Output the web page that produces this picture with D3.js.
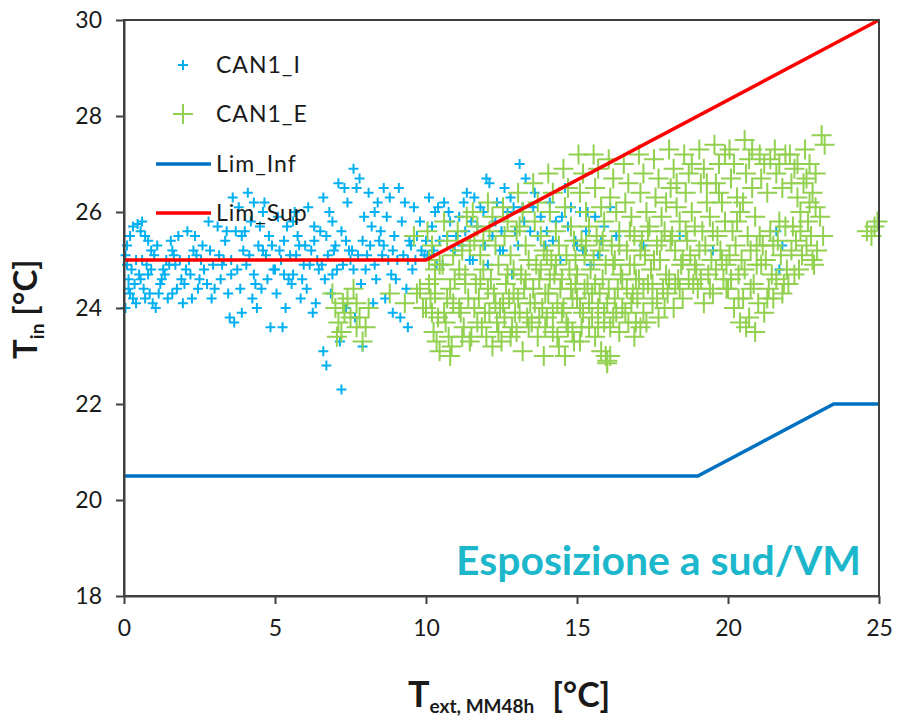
<!DOCTYPE html>
<meta charset="utf-8">
<style type="text/css">
  body { margin: 0; background: #fff; }
  text { font-family: Lato, "Open Sans", sans-serif; fill: #1a1a1a; }
  .axis path, .axis line { stroke: #404040; stroke-width: 2; }
  .axis text { font-size: 23px; fill: #1a1a1a; }
  .frame { fill: none; stroke: #404040; stroke-width: 2; }
  .limline { fill: none; stroke-width: 3.5; }
</style>
<body>
</body>
<script src="https://d3js.org/d3.v7.min.js"></script>
<script>
  // T_in vs T_ext (moving mean 48h), south exposure

  var seriesNames = ["CAN1_I", "CAN1_E", "Lim_Inf", "Lim_Sup"];
  var xTicks = [0, 5, 10, 15, 20, 25];
  var yTicks = [18, 20, 22, 24, 26, 28, 30];

  // Lim_Inf / Lim_Sup corner points
  var limInfX = [0, 19, 23.5, 25];
  var limInfY = [20.5, 20.5, 22, 22];
  var limSupX = [0, 10, 25];
  var limSupY = [25, 25, 30];

  // CAN1_I measurements [T_ext, T_in]
  var canI = [
    [0.05,25.1],[0.1,24.9],[0.15,24.6],[0.2,24.3],[0.05,24.0],[0.3,25.7],[0.45,25.75],[0.35,24.5],[0.25,24.8],[0.4,25.0],[0.3,24.2],
    [0.55,25.6],[0.7,25.5],[0.6,25.8],[0.8,24.7],[0.65,24.4],[0.9,25.2],[0.75,24.9],[0.95,24.1],[0.55,24.6],[0.85,24.3],
    [1.05,24.0],[1.2,24.5],[1.3,24.8],[1.1,25.3],[1.4,25.0],[1.25,24.6],[1.45,24.2],
    [1.55,25.4],[1.8,25.5],[1.6,24.3],[1.7,24.9],[1.9,24.6],[1.65,25.1],[1.95,24.1],
    [2.1,25.6],[2.3,25.2],[2.2,24.7],[2.45,24.4],[2.35,25.5],[2.05,24.8],
    [2.6,25.3],[2.75,24.5],[2.9,24.2],[2.8,25.8],[2.55,25.0],[2.95,24.9],
    [3.1,25.7],[3.3,25.0],[3.2,24.6],[3.45,24.3],[3.5,23.8],[3.35,25.4],
    [3.6,26.3],[3.8,26.1],[3.7,25.6],[3.95,25.2],[3.55,24.7],[3.85,24.4],[3.65,23.7],[3.9,23.9],
    [4.1,26.4],[4.3,26.2],[4.2,25.8],[4.45,25.3],[4.05,24.9],[4.35,24.5],[4.25,24.2],[4.4,24.0],
    [4.6,26.0],[4.8,25.5],[4.7,25.1],[4.95,24.8],[4.55,24.4],[4.85,23.6],[4.65,26.2],
    [5.1,25.9],[5.3,25.4],[5.2,25.0],[5.45,24.6],[5.05,24.3],[5.35,24.0],[5.25,23.6],[5.4,25.7],
    [5.6,25.8],[5.8,25.3],[5.7,25.1],[5.95,24.9],[5.55,24.5],[5.85,24.2],[5.65,26.0],
    [6.1,26.1],[6.3,25.7],[6.2,25.2],[6.45,24.8],[6.05,24.4],[6.35,24.1],[6.25,23.9],
    [6.6,26.3],[6.8,26.0],[6.7,25.5],[6.95,25.2],[6.55,24.9],[6.85,24.3],[6.6,23.1],[6.7,22.8],[6.9,25.8],
    [7.1,26.6],[7.3,26.5],[7.2,25.6],[7.45,25.2],[7.05,24.8],[7.35,24.0],[7.15,23.3],[7.2,22.3],[7.4,26.2],
    [7.6,26.9],[7.8,26.7],[7.7,26.5],[7.95,25.9],[7.55,25.2],[7.85,24.5],[7.65,23.8],[7.9,23.2],
    [8.1,26.4],[8.3,26.0],[8.2,25.7],[8.45,25.4],[8.05,25.1],[8.35,24.6],[8.25,24.1],[8.4,26.2],
    [8.6,26.5],[8.8,26.3],[8.7,25.9],[8.95,25.5],[8.55,25.1],[8.85,24.7],[8.65,24.2],[8.9,23.9],
    [9.1,26.5],[9.3,26.2],[9.2,25.8],[9.45,25.4],[9.05,25.0],[9.35,24.4],[9.15,23.8],[9.4,23.6],
    [9.6,26.1],[9.8,25.8],[9.7,25.5],[9.95,25.1],[9.55,24.8],
    [10.1,26.3],[10.3,26.0],[10.2,25.7],[10.45,25.4],[10.05,25.1],[10.35,24.9],
    [10.6,26.2],[10.8,25.8],[10.7,25.5],[10.95,25.2],[10.55,24.9],
    [11.1,25.9],[11.3,25.6],[11.2,25.3],[11.45,25.0],[11.35,26.4],
    [11.6,26.3],[11.8,26.1],[11.7,25.7],[11.95,25.3],[11.55,25.0],
    [12.1,26.6],[12.0,26.7],[12.3,25.8],[12.2,25.5],[12.45,25.2],[12.05,24.9],
    [12.6,26.5],[12.8,26.3],[12.7,26.0],[12.95,25.6],[12.55,25.2],[12.85,24.7],
    [13.1,27.0],[13.3,26.7],[13.2,26.1],[13.45,25.6],[13.05,25.3],
    [13.6,26.4],[13.8,25.9],[13.7,25.5],[13.95,25.3],
    [14.1,26.2],[14.3,25.8],[14.2,25.4],[14.45,25.0],
    [14.6,26.5],[14.8,26.1],[14.7,25.7],[14.95,25.4],
    [15.1,26.0],[15.3,25.6],[15.2,25.2],[15.45,24.9],
    [15.6,25.9],[15.8,25.4],[15.7,25.1],
    [16.1,26.1],[16.3,25.5],
    [17.2,25.3],[18.4,25.5],[19.5,25.2],
    [21.6,25.6],[21.8,25.3],[21.7,24.8],
    [0.1,25.3],[0.2,25.5],[0.15,24.4],[0.4,24.1],[0.5,24.7],[0.6,25.0],[0.7,24.2],[0.8,25.4],[0.9,24.8],[1.0,25.1],
    [1.15,24.3],[1.35,24.7],[1.5,24.9],[1.6,25.2],[1.75,24.4],[1.85,25.0],[2.0,24.5],[2.15,25.0],[2.25,24.2],[2.4,25.1],
    [2.5,24.6],[2.65,24.8],[2.85,25.2],[3.0,24.4],[3.15,25.1],[3.25,24.9],[3.4,25.6],[3.55,25.0],[3.75,24.8],[3.9,25.5],
    [4.0,25.6],[4.15,25.1],[4.3,24.7],[4.5,25.7],[4.6,25.2],[4.75,24.6],[4.9,25.3],[5.0,24.8],[5.15,25.2],[5.3,24.7],
    [5.5,25.1],[5.6,24.7],[5.75,25.5],[5.9,24.6],[6.0,25.3],[6.15,24.9],[6.3,25.4],[6.4,25.0],[6.5,25.6],[6.65,24.6],
    [6.75,25.1],[6.9,24.7],[7.0,25.3],[7.25,24.9],[7.35,25.4],[7.5,25.0],[7.6,24.8],[7.75,25.1],[7.9,25.4],[8.0,24.8],
    [8.15,25.3],[8.3,24.9],[8.5,25.6],[8.6,25.3],[8.75,25.0],[8.9,25.2],[9.0,24.6],[9.25,25.1],[9.4,25.0],[9.5,25.3],
    [9.65,25.0],[9.85,25.2],[10.0,25.4],[10.25,25.2],[10.4,26.1],[10.75,26.0],[11.0,25.5],[11.25,26.2],[11.5,25.8],[11.9,26.0],
    [12.35,26.2],[12.5,25.6],[12.9,26.1],[13.25,25.8],[13.55,26.1],[14.0,25.6],[14.5,25.9],[15.0,25.3],[15.35,26.0],[15.9,25.7]
  ];

  // CAN1_E measurements [T_ext, T_in]
  var canE = [
    [6.9,24.3],[7.0,24.0],[7.1,23.7],[7.2,23.5],[7.3,23.9],[7.4,24.2],
    [7.6,24.4],[7.7,24.1],[7.8,23.8],[7.9,23.3],[8.0,23.6],[8.1,24.0],
    [7.05,23.4],[7.25,24.1],[7.5,23.8],[7.7,23.6],
    [8.8,24.3],[9.3,24.1],
    [9.6,25.5],[9.8,24.4],[9.7,24.3],[9.9,24.0],
    [10.05,25.6],[10.2,25.3],[10.1,25.0],[10.3,24.6],[10.15,24.2],[10.4,23.8],[10.25,23.5],[10.35,23.3],[10.45,23.1],[10.0,24.0],[10.3,24.8],
    [10.6,25.8],[10.7,25.4],[10.55,24.9],[10.8,24.4],[10.9,24.1],[10.65,23.7],[10.75,23.4],[10.85,23.2],[10.95,24.6],
    [10.1,24.5],[10.2,23.9],[10.3,24.3],[10.45,24.9],[10.6,23.9],[10.7,24.2],[10.8,23.0],[10.9,25.1],
    [11.05,25.6],[11.2,25.2],[11.1,24.8],[11.3,24.5],[11.4,24.2],[11.15,23.9],[11.25,23.6],[11.45,23.3],[11.35,25.9],
    [11.1,24.0],[11.2,23.4],[11.3,24.7],[11.45,25.3],[11.6,24.0],[11.7,23.7],[11.8,24.6],[11.9,25.4],
    [11.55,26.0],[11.7,25.7],[11.6,25.4],[11.8,25.1],[11.9,24.8],[11.65,24.5],[11.75,24.2],[11.95,23.9],[11.85,23.6],[11.5,23.4],
    [12.05,26.2],[12.2,25.9],[12.1,25.6],[12.3,25.3],[12.4,24.9],[12.15,24.6],[12.25,24.3],[12.45,24.0],[12.35,23.7],[12.0,23.4],[12.2,23.2],
    [12.05,24.4],[12.1,23.9],[12.3,24.1],[12.4,23.5],[12.55,24.1],[12.6,23.8],[12.7,24.7],[12.8,23.4],[12.9,24.3],[13.0,25.6],
    [12.55,26.1],[12.7,25.8],[12.6,25.5],[12.8,25.1],[12.9,24.8],[12.65,24.5],[12.75,24.2],[12.95,23.9],[12.85,23.6],[12.5,23.3],
    [13.05,26.4],[13.2,26.0],[13.1,25.7],[13.3,25.3],[13.4,25.0],[13.15,24.7],[13.25,24.4],[13.45,24.1],[13.35,23.8],[13.0,23.5],[13.2,23.1],
    [13.05,24.2],[13.1,23.9],[13.3,24.6],[13.4,23.6],[13.55,24.4],[13.6,24.1],[13.75,23.8],[13.8,24.8],[13.95,23.6],[14.0,25.1],
    [13.55,26.6],[13.7,26.2],[13.6,25.8],[13.8,25.5],[13.9,25.2],[13.65,24.9],[13.75,24.6],[13.95,24.3],[13.85,24.0],[13.5,23.7],[13.7,23.4],[13.9,23.0],
    [14.05,26.8],[14.2,26.4],[14.1,26.0],[14.3,25.6],[14.4,25.3],[14.15,25.0],[14.25,24.7],[14.45,24.4],[14.35,24.1],[14.0,23.8],[14.2,23.5],[14.4,23.2],
    [14.05,24.3],[14.1,24.6],[14.2,23.9],[14.3,24.9],[14.35,23.4],[14.5,24.6],[14.55,24.0],[14.65,23.7],[14.8,24.4],[14.85,23.5],[14.95,25.0],
    [14.55,26.9],[14.7,26.5],[14.6,26.1],[14.8,25.7],[14.9,25.4],[14.65,25.1],[14.75,24.8],[14.95,24.5],[14.85,24.2],[14.5,23.9],[14.7,23.6],[14.9,23.3],[14.6,23.0],
    [15.05,27.2],[15.2,26.8],[15.1,26.4],[15.3,26.0],[15.4,25.7],[15.15,25.4],[15.25,25.1],[15.45,24.8],[15.35,24.5],[15.0,24.2],[15.2,23.9],[15.4,23.6],[15.1,23.3],
    [15.0,24.7],[15.1,24.0],[15.15,23.6],[15.25,24.4],[15.3,25.3],[15.4,24.1],[15.5,23.8],[15.55,25.0],[15.6,24.5],[15.7,23.6],[15.75,24.3],[15.85,25.4],[15.9,23.9],[16.0,22.9],[15.95,23.0],
    [15.55,27.2],[15.7,26.9],[15.6,26.5],[15.8,26.1],[15.9,25.8],[15.65,25.5],[15.75,25.2],[15.95,24.9],[15.85,24.6],[15.5,24.3],[15.7,24.0],[15.9,23.7],[15.6,23.4],[15.8,23.1],
    [16.05,27.1],[16.2,26.7],[16.1,26.3],[16.3,26.0],[16.4,25.6],[16.15,25.3],[16.25,25.0],[16.45,24.7],[16.35,24.4],[16.0,24.1],[16.2,23.8],[16.4,23.5],[16.1,23.0],[16.0,22.85],
    [16.05,24.4],[16.1,23.6],[16.2,24.9],[16.25,24.2],[16.3,23.9],[16.4,25.3],[16.5,24.6],[16.6,23.9],[16.65,24.4],[16.75,25.6],[16.8,24.1],[16.9,24.9],[16.95,23.7],
    [16.55,27.0],[16.7,26.6],[16.6,26.2],[16.8,25.9],[16.9,25.5],[16.65,25.2],[16.75,24.9],[16.95,24.6],[16.85,24.3],[16.5,24.0],[16.7,23.7],[16.9,23.4],
    [17.05,27.2],[17.2,26.8],[17.1,26.4],[17.3,26.0],[17.4,25.7],[17.15,25.4],[17.25,25.1],[17.45,24.8],[17.35,24.5],[17.0,24.2],[17.2,23.9],[17.1,23.6],
    [17.05,24.6],[17.1,25.2],[17.2,24.4],[17.3,23.7],[17.35,25.6],[17.5,24.5],[17.55,25.0],[17.65,24.2],[17.8,25.4],[17.9,24.0],[17.95,26.2],
    [17.55,27.1],[17.7,26.7],[17.6,26.3],[17.8,25.9],[17.9,25.6],[17.65,25.3],[17.75,25.0],[17.95,24.7],[17.85,24.4],[17.5,24.1],[17.7,23.8],
    [18.05,27.3],[18.2,26.9],[18.1,26.5],[18.3,26.1],[18.4,25.8],[18.15,25.5],[18.25,25.2],[18.45,24.9],[18.35,24.6],[18.0,24.3],[18.2,24.0],
    [18.05,24.6],[18.1,25.4],[18.25,24.5],[18.3,26.6],[18.4,24.4],[18.5,25.0],[18.6,25.6],[18.7,24.6],[18.8,27.0],[18.9,24.9],
    [18.55,27.2],[18.7,26.8],[18.6,26.4],[18.8,26.0],[18.9,25.7],[18.65,25.4],[18.75,25.1],[18.95,24.8],[18.85,24.5],[18.5,24.2],
    [19.05,27.3],[19.2,26.9],[19.1,26.6],[19.3,26.2],[19.4,25.9],[19.15,25.6],[19.25,25.3],[19.45,25.0],[19.35,24.7],[19.0,24.4],[19.2,24.1],
    [19.05,25.2],[19.1,24.6],[19.3,26.6],[19.4,24.4],[19.5,25.6],[19.6,24.8],[19.7,26.4],[19.8,25.0],[19.9,27.2],[19.95,24.4],
    [19.55,27.4],[19.7,27.0],[19.6,26.6],[19.8,26.2],[19.9,25.8],[19.65,25.5],[19.75,25.2],[19.95,24.9],[19.85,24.6],[19.5,24.3],
    [20.05,27.3],[20.2,27.0],[20.1,26.7],[20.3,26.3],[20.4,26.0],[20.15,25.6],[20.25,25.3],[20.45,25.0],[20.35,24.7],[20.0,24.4],[20.2,24.0],[20.4,23.7],
    [20.05,25.1],[20.1,24.6],[20.3,25.8],[20.35,24.2],[20.5,26.2],[20.55,24.8],[20.6,23.6],[20.75,24.4],[20.8,27.3],[20.95,25.3],
    [20.55,27.5],[20.7,27.1],[20.6,26.8],[20.8,26.5],[20.9,25.9],[20.65,25.5],[20.75,25.2],[20.95,24.9],[20.85,24.5],[20.5,24.2],[20.7,23.8],[20.9,23.5],
    [21.05,27.2],[21.2,27.0],[21.1,26.7],[21.3,26.4],[21.4,25.6],[21.15,25.3],[21.25,25.0],[21.45,24.7],[21.35,24.4],[21.0,24.1],[21.2,23.9],
    [21.05,25.5],[21.1,24.9],[21.3,24.2],[21.4,27.1],[21.5,25.3],[21.6,24.6],[21.7,25.8],[21.8,24.3],[21.9,27.2],
    [21.55,27.3],[21.7,27.0],[21.6,26.8],[21.8,26.5],[21.9,25.7],[21.65,25.4],[21.75,25.1],[21.95,24.8],[21.85,24.5],[21.5,24.2],
    [22.05,27.2],[22.2,26.9],[22.1,26.6],[22.3,26.3],[22.4,26.0],[22.15,25.7],[22.25,25.4],[22.45,25.1],[22.35,24.8],[22.0,24.5],
    [22.1,25.2],[22.2,24.7],[22.3,27.0],[22.4,25.6],[22.5,26.6],[22.6,25.3],[22.7,26.2],[22.8,25.0],[22.9,26.8],
    [22.55,27.3],[22.7,27.0],[22.6,26.7],[22.8,26.4],[22.9,26.1],[22.65,25.8],[22.75,25.5],[22.95,25.2],[22.85,24.9],
    [23.1,27.6],[23.2,27.4],[23.05,25.9],[23.15,25.5],
    [24.6,25.6],[24.75,25.5],[24.85,25.7],[24.95,25.8]
  ];

  var margin = { top: 20, right: 19, bottom: 125, left: 124 },
    width = 898 - margin.left - margin.right,
    height = 721 - margin.top - margin.bottom;

  var xScale = d3.scaleLinear().domain([0, 25]).range([0, width]);
  var yScale = d3.scaleLinear().domain([18, 30]).range([height, 0]);

  var svg = d3.select("body").append("svg")
    .attr("width", 898)
    .attr("height", 721);

  var g = svg.append("g")
    .attr("transform", "translate(" + margin.left + "," + margin.top + ")");

  // plus marker path of half-size r
  function plus(r) {
    return "M" + (-r) + ",0H" + r + "M0," + (-r) + "V" + r;
  }

  // blue points (drawn first, green lies over them)
  g.append("g").selectAll("path")
    .data(canI)
    .join("path")
    .attr("d", plus(5))
    .attr("transform", function(d) { return "translate(" + xScale(d[0]) + "," + yScale(d[1]) + ")"; })
    .attr("stroke", "#00b0f0")
    .attr("stroke-width", 2)
    .attr("fill", "none");

  g.append("g").selectAll("path")
    .data(canE)
    .join("path")
    .attr("d", plus(10))
    .attr("transform", function(d) { return "translate(" + xScale(d[0]) + "," + yScale(d[1]) + ")"; })
    .attr("stroke", "#92d050")
    .attr("stroke-width", 2)
    .attr("fill", "none");

  var line = d3.line()
    .x(function(d) { return xScale(d[0]); })
    .y(function(d) { return yScale(d[1]); });

  g.append("path")
    .datum(d3.zip(limInfX, limInfY))
    .attr("class", "limline")
    .attr("stroke", "#0070c0")
    .attr("d", line);

  g.append("path")
    .datum(d3.zip(limSupX, limSupY))
    .attr("class", "limline")
    .attr("stroke", "#ff0000")
    .attr("d", line);

  // frame + axes
  g.append("rect")
    .attr("class", "frame")
    .attr("width", width)
    .attr("height", height);

  g.append("g")
    .attr("class", "axis")
    .call(d3.axisLeft(yScale).tickValues(yTicks).tickSize(8).tickSizeOuter(0).tickPadding(14));

  g.append("g")
    .attr("class", "axis")
    .attr("transform", "translate(0," + height + ")")
    .call(d3.axisBottom(xScale).tickValues(xTicks).tickSize(8).tickSizeOuter(0).tickPadding(16));

  // legend
  var leg = g.append("g");
  var legY = [45, 94, 144, 193];

  leg.append("path").attr("d", plus(5))
    .attr("transform", "translate(59," + legY[0] + ")")
    .attr("stroke", "#00b0f0").attr("stroke-width", 2);
  leg.append("path").attr("d", plus(10))
    .attr("transform", "translate(59," + legY[1] + ")")
    .attr("stroke", "#92d050").attr("stroke-width", 2);
  leg.append("line").attr("x1", 32).attr("x2", 87).attr("y1", legY[2]).attr("y2", legY[2])
    .attr("stroke", "#0070c0").attr("stroke-width", 3.5);
  leg.append("line").attr("x1", 32).attr("x2", 87).attr("y1", legY[3]).attr("y2", legY[3])
    .attr("stroke", "#ff0000").attr("stroke-width", 3.5);

  leg.selectAll("text")
    .data(seriesNames)
    .join("text")
    .attr("x", 92)
    .attr("y", function(d, i) { return legY[i]; })
    .attr("dy", "0.36em")
    .style("font-size", "23px")
    .style("letter-spacing", "1px")
    .text(function(d) { return d; });

  // exposure note
  g.append("text")
    .attr("x", width - 18)
    .attr("y", 555)
    .attr("text-anchor", "end")
    .attr("textLength", 405)
    .attr("lengthAdjust", "spacingAndGlyphs")
    .style("font-size", "40px")
    .style("font-weight", "bold")
    .style("fill", "#1db7cc")
    .text("Esposizione a sud/VM");

  // axis titles
  var xt = svg.append("text")
    .attr("x", 408)
    .attr("y", 707)
    .style("font-weight", "bold");
  xt.append("tspan").style("font-size", "36px").text("T");
  xt.append("tspan").attr("dy", 6).style("font-size", "19px").text("ext, MM48h");
  xt.append("tspan").attr("dy", -6).attr("dx", 18).style("font-size", "34px").text("[°C]");

  var yt = svg.append("text")
    .attr("transform", "translate(37,359) rotate(-90)")
    .style("font-weight", "bold");
  yt.append("tspan").style("font-size", "33px").text("T");
  yt.append("tspan").attr("dy", 7).style("font-size", "19px").text("in");
  yt.append("tspan").attr("dy", -7).attr("dx", 8).style("font-size", "33px").text("[°C]");
</script>
